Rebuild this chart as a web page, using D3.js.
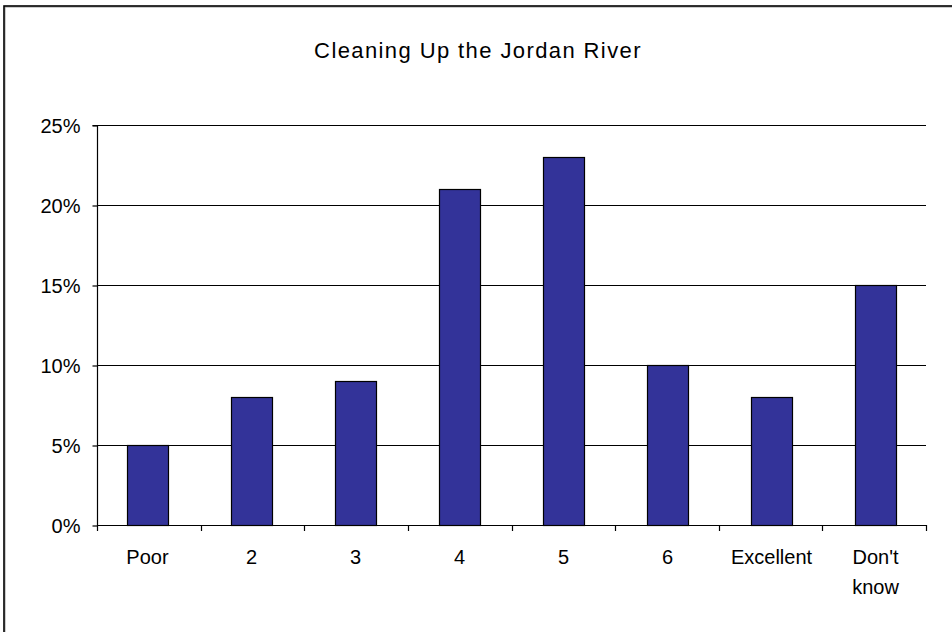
<!DOCTYPE html>
<html><head><meta charset="utf-8">
<script src="https://cdn.jsdelivr.net/npm/d3@7"></script>
<style>
html,body{margin:0;padding:0;background:#fff;}
svg{display:block;}
text{font-family:"Liberation Sans",Arial,sans-serif;fill:#000;}
</style></head>
<body>
<svg id="chart" width="952" height="632"></svg>
<script>
const title = "Cleaning Up the Jordan River";
const categories = ["Poor", "2", "3", "4", "5", "6", "Excellent", "Don't know"];
const values = [5, 8, 9, 21, 23, 10, 8, 15];
const yTicks = [0, 5, 10, 15, 20, 25];

const svg = d3.select("#chart");
const W = 952, H = 632;
const m = {left: 97, right: 26, top: 125, bottom: 107};

// outer chart border (right/bottom edges lie outside the view)
svg.append("rect").attr("x", 5).attr("y", 7).attr("width", 960).attr("height", 640)
  .attr("fill", "none").attr("stroke", "#999").attr("stroke-width", 1);
svg.append("rect").attr("x", 4).attr("y", 6).attr("width", 960).attr("height", 640)
  .attr("fill", "none").attr("stroke", "#000").attr("stroke-width", 1.6);

svg.append("text").attr("x", 478).attr("y", 58).attr("text-anchor", "middle")
  .style("font-size", "22px").style("letter-spacing", "1.4px").text(title);

const x = d3.scaleBand().domain(categories).range([m.left, W - m.right])
  .paddingInner(0.61).paddingOuter(0.29);
const y = d3.scaleLinear().domain([0, 25]).range([H - m.bottom, m.top]);

// gridlines
svg.append("g").selectAll("line").data(yTicks.filter(d => d > 0)).join("line")
  .attr("x1", m.left).attr("x2", W - m.right)
  .attr("y1", d => Math.round(y(d)) + 0.5).attr("y2", d => Math.round(y(d)) + 0.5)
  .attr("stroke", "#000").attr("stroke-width", 1.2);

// bars
svg.append("g").selectAll("rect").data(values).join("rect")
  .attr("x", (d, i) => Math.round(x(categories[i])) + 0.5)
  .attr("y", d => Math.round(y(d)) + 0.5)
  .attr("width", Math.round(x.bandwidth()))
  .attr("height", d => y(0) - Math.round(y(d)))
  .attr("fill", "#333399").attr("stroke", "#000").attr("stroke-width", 1.2);

// y axis
const yAxis = d3.axisLeft(y).tickValues(yTicks).tickSize(5).tickPadding(12)
  .tickFormat(d => d + "%");
const gy = svg.append("g").attr("transform", `translate(${m.left + 0.5},0.5)`).call(yAxis);
gy.select(".domain").attr("stroke", "#000").attr("stroke-width", 1.2).attr("d", `M-5,${y(25)}H0V${y(0)}`);
gy.selectAll(".tick line").attr("stroke", "#000").attr("stroke-width", 1.2);
gy.selectAll(".tick text").style("font-size", "20px").attr("fill", "#000").attr("dy", "0.35em");

// x axis with ticks at category boundaries
const bounds = d3.range(categories.length + 1).map(i => m.left + i * (W - m.right - m.left) / categories.length);
const gx = svg.append("g");
gx.append("line").attr("x1", m.left).attr("x2", W - m.right)
  .attr("y1", y(0) + 0.5).attr("y2", y(0) + 0.5).attr("stroke", "#000").attr("stroke-width", 1.2);
gx.selectAll("line.tk").data(bounds).join("line").attr("class", "tk")
  .attr("x1", d => Math.round(d) + 0.5).attr("x2", d => Math.round(d) + 0.5)
  .attr("y1", y(0)).attr("y2", y(0) + 6).attr("stroke", "#000").attr("stroke-width", 1.2);

const labels = gx.selectAll("text").data(categories).join("text")
  .attr("text-anchor", "middle").style("font-size", "20px")
  .attr("transform", d => `translate(${x(d) + x.bandwidth() / 2},564)`);
labels.each(function(d) {
  const parts = d === "Don't know" ? ["Don't", "know"] : [d];
  d3.select(this).selectAll("tspan").data(parts).join("tspan")
    .attr("x", 0).attr("y", (p, i) => i * 30).text(p => p);
});
</script>
</body></html>
